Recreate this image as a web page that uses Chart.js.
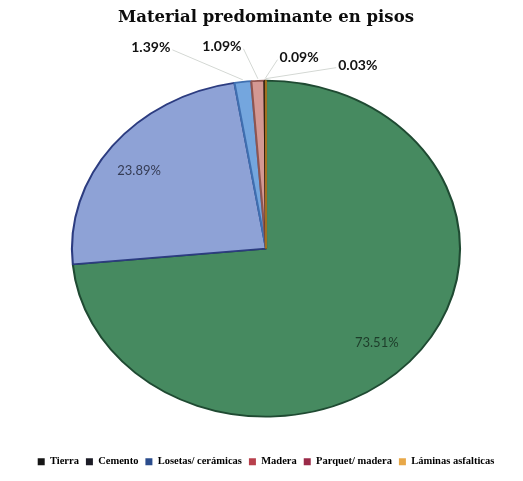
<!DOCTYPE html>
<html>
<head>
<meta charset="utf-8">
<script src="https://cdn.jsdelivr.net/npm/chart.js@4"></script>
<style>
  html, body { margin: 0; padding: 0; background: #ffffff; }
  #wrap { width: 523px; height: 481px; }
</style>
</head>
<body>
<div id="wrap"><canvas id="pieChart"></canvas></div>
<script>
// legend order, as in the picture
const categories = ["Tierra", "Cemento", "Losetas/ cerámicas", "Madera", "Parquet/ madera", "Láminas asfalticas"];
const values = [1.39, 73.51, 23.89, 1.09, 0.09, 0.03];
const pctLabels = ["1.39%", "73.51%", "23.89%", "1.09%", "0.09%", "0.03%"];
// order the slices go round, clockwise from the top
const drawOrder = [1, 2, 0, 3, 4, 5];

const sliceColors = ["#74a6de", "#468a60", "#8ea2d6", "#d49893", "#161616", "#e0a848"];
const sliceBorders = ["#3f6fb0", "#1f4a32", "#2c3c80", "#8f5550", "#000000", "#a07020"];
const legendColors = ["#151515", "#1c1c26", "#2b4c8c", "#b8404c", "#9a2a48", "#e8a848"];

// where the outside labels sit, relative to the slice edge (px)
const outsideOffsets = { 0: [-92, -34], 3: [-36, -34], 4: [34, -23], 5: [92, -15] };
const insideLabels = { 1: "#1d3d2a", 2: "#353c55" };

const stretchX = 1.155;

const ctx = document.getElementById("pieChart").getContext("2d");

const ellipsePlugin = {
    id: "ellipse",
    beforeDatasetsDraw(chart) {
        const a = chart.chartArea;
        const cx = (a.left + a.right) / 2;
        chart.ctx.save();
        chart.ctx.translate(cx, 0);
        chart.ctx.scale(stretchX, 1);
        chart.ctx.translate(-cx, 0);
    },
    afterDatasetsDraw(chart) {
        chart.ctx.restore();
    }
};

const labelPlugin = {
    id: "pctLabels",
    afterDraw(chart) {
        const c = chart.ctx;
        const meta = chart.getDatasetMeta(0);
        const a = chart.chartArea;
        const cx = (a.left + a.right) / 2;
        meta.data.forEach((arc, k) => {
            const i = drawOrder[k];
            const p = arc.getProps(["x", "y", "startAngle", "endAngle", "outerRadius"], true);
            const mid = (p.startAngle + p.endAngle) / 2;
            const at = f => [cx + (p.x + Math.cos(mid) * p.outerRadius * f - cx) * stretchX,
                             p.y + Math.sin(mid) * p.outerRadius * f];
            c.save();
            c.textAlign = "center";
            c.textBaseline = "middle";
            if (insideLabels[i]) {
                const [lx, ly] = at(0.8);
                c.font = "13px Lato";
                c.fillStyle = insideLabels[i];
                c.fillText(pctLabels[i], lx - 4, ly + 4);
            } else if (outsideOffsets[i]) {
                const [ex, ey] = at(1);
                const lx = ex + outsideOffsets[i][0];
                const ly = ey + outsideOffsets[i][1];
                c.font = "bold 14px Lato";
                const w = c.measureText(pctLabels[i]).width;
                c.strokeStyle = "#d4d8d4";
                c.lineWidth = 1;
                c.beginPath();
                const sx = lx + (ex > lx ? w / 2 + 2 : -w / 2 - 2);
                c.moveTo(sx, ly + 2);
                c.lineTo(ex, ey - 2);
                c.stroke();
                c.fillStyle = "#121212";
                c.fillText(pctLabels[i], lx, ly);
            }
            c.restore();
        });
    }
};

new Chart(ctx, {
    type: "pie",
    data: {
        labels: drawOrder.map(i => categories[i]),
        datasets: [{
            data: drawOrder.map(i => values[i]),
            backgroundColor: drawOrder.map(i => sliceColors[i]),
            borderColor: drawOrder.map(i => sliceBorders[i]),
            borderWidth: 1.8,
            radius: 168
        }]
    },
    options: {
        responsive: true,
        maintainAspectRatio: false,
        animation: false,
        layout: { padding: { left: 9, bottom: 4 } },
        plugins: {
            tooltip: { enabled: false },
            title: {
                display: true,
                text: "Material predominante en pisos",
                color: "#0c0c0c",
                font: { family: "DejaVu Serif", weight: "bold", size: 16.5 },
                padding: { top: 8, bottom: 20 }
            },
            legend: {
                position: "bottom",
                labels: {
                    boxWidth: 7,
                    boxHeight: 7,
                    padding: 7,
                    color: "#111111",
                    font: { family: "Liberation Serif", weight: "bold", size: 10.5 },
                    generateLabels: () => categories.map((name, i) => ({
                        text: name,
                        fillStyle: legendColors[i],
                        strokeStyle: legendColors[i],
                        lineWidth: 0,
                        hidden: false,
                        index: i
                    }))
                }
            }
        }
    },
    plugins: [ellipsePlugin, labelPlugin]
});
</script>
</body>
</html>
